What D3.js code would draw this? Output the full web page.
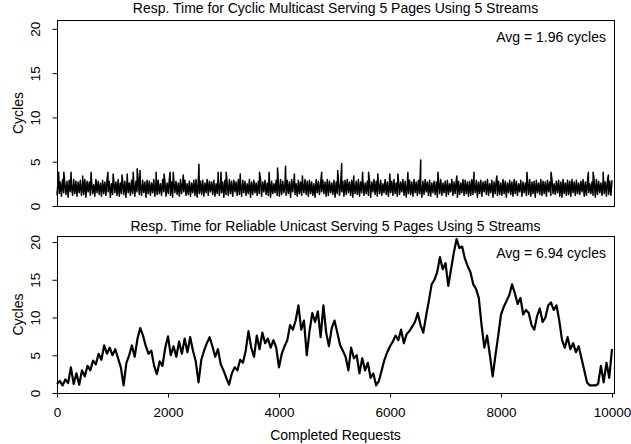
<!DOCTYPE html>
<html>
<head>
  <meta charset="UTF-8">
  <title>Response Time: Cyclic Multicast vs Reliable Unicast</title>
  <script src="https://d3js.org/d3.v7.min.js"></script>
  <style>
    body { margin: 0; background: #fff; }
    svg { display: block; font-family: "Liberation Sans", Arial, sans-serif; }
    .frame { fill: none; stroke: #000; stroke-width: 1; }
    .series { fill: none; stroke: #000; stroke-linejoin: round; }
    .axis path { display: none; }
    .axis line { stroke: #000; }
    .axis text { font-size: 13.5px; fill: #000; font-family: "Liberation Sans", Arial, sans-serif; }
    .lbl { font-size: 14px; }
  </style>
</head>
<body>
<svg width="631" height="444"></svg>
<script>
  // ---- data ----
  const yTicks = [0, 5, 10, 15, 20];
  const xTicks = [0, 2000, 4000, 6000, 8000, 10000];
  const maxReq = 10000;

  const titles = [
    "Resp. Time for Cyclic Multicast Serving 5 Pages Using 5 Streams",
    "Resp. Time for Reliable Unicast Serving 5 Pages Using 5 Streams"
  ];
  const avgLabels = ["Avg = 1.96 cycles", "Avg = 6.94 cycles"];

  // cyclic multicast: the dense band, evenly spaced over the requests
  const cyclicBand = [
    1.2,2.9,1.4,2.7,1.1,3.0,1.5,2.6,1.3,2.8,1.0,2.9,1.6,2.5,1.2,3.0,1.4,2.8,1.1,2.7,
    1.5,2.9,1.2,2.6,1.3,3.0,1.0,2.8,1.6,2.7,1.2,2.9,1.4,2.4,1.1,3.0,1.5,2.8,1.3,2.6,
    1.1,2.9,1.4,2.7,1.2,3.0,1.6,2.8,1.0,2.5,1.3,2.9,1.5,2.7,1.2,3.0,1.1,2.6,1.4,2.9,
    1.3,2.8,1.0,3.0,1.5,2.6,1.2,2.9,1.4,2.7,1.1,2.8,1.6,3.0,1.3,2.5,1.2,2.9,1.5,2.7,
    1.0,2.9,1.4,2.8,1.2,2.6,1.5,3.0,1.1,2.7,1.3,2.9,1.4,2.5,1.2,3.0,1.6,2.8,1.1,2.6,
    1.4,3.0,1.2,2.7,1.0,2.9,1.5,2.8,1.3,2.6,1.1,3.0,1.4,2.7,1.6,2.9,1.2,2.5,1.3,2.8,
    1.1,2.6,1.5,2.9,1.2,3.0,1.0,2.7,1.4,2.8,1.3,2.9,1.1,2.6,1.5,3.0,1.2,2.8,1.6,2.7,
    1.3,2.9,1.1,2.5,1.4,3.0,1.2,2.8,1.5,2.7,1.0,2.9,1.3,2.6,1.2,3.0,1.4,2.8,1.1,2.9,
    1.6,2.7,1.2,3.0,1.3,2.6,1.1,2.9,1.5,2.8,1.2,2.5,1.4,3.0,1.0,2.7,1.3,2.9,1.5,2.6,
    1.2,2.8,1.4,3.0,1.1,2.7,1.6,2.9,1.3,2.6,1.2,3.0,1.0,2.8,1.4,2.5,1.5,2.9,1.2,2.7,
    1.1,3.0,1.3,2.8,1.5,2.6,1.2,2.9,1.4,2.7,1.0,3.0,1.6,2.8,1.3,2.5,1.1,2.9,1.4,2.7,
    1.2,2.6,1.5,3.0,1.3,2.8,1.1,2.9,1.4,2.7,1.2,2.5,1.0,3.0,1.5,2.8,1.3,2.6,1.6,2.9,
    1.4,2.7,1.1,3.0,1.2,2.8,1.5,2.6,1.3,2.9,1.0,2.7,1.4,3.0,1.2,2.5,1.6,2.8,1.1,2.9,
    1.3,3.0,1.5,2.7,1.2,2.9,1.0,2.6,1.4,2.8,1.3,3.0,1.1,2.7,1.5,2.9,1.2,2.6,1.4,2.8,
    1.2,2.9,1.0,2.7,1.6,3.0,1.3,2.8,1.1,2.6,1.4,2.9,1.2,2.5,1.5,3.0,1.3,2.7,1.1,2.8,
    1.5,2.8,1.2,3.0,1.4,2.6,1.1,2.9,1.3,2.7,1.6,3.0,1.2,2.8,1.0,2.6,1.4,2.9,1.3,2.7,
    1.1,3.0,1.5,2.7,1.2,2.9,1.4,2.5,1.0,2.8,1.3,3.0,1.6,2.7,1.2,2.9,1.1,2.6,1.5,2.8,
    1.3,2.7,1.0,2.9,1.4,3.0,1.2,2.6,1.5,2.8,1.1,2.9,1.3,2.5,1.6,3.0,1.2,2.7,1.4,2.9,
    1.0,2.8,1.3,2.6,1.5,3.0,1.2,2.9,1.4,2.7,1.1,2.8,1.2,3.0,1.3,2.6,1.5,2.9,1.0,2.7,
    1.4,2.9,1.1,2.7,1.6,2.8,1.3,3.0,1.2,2.5,1.5,2.9,1.0,2.7,1.4,3.0,1.2,2.8,1.3,2.6,
    1.2,3.0,1.4,2.8,1.0,2.6,1.5,2.9,1.3,2.7,1.1,3.0,1.4,2.8,1.2,2.5,1.6,2.9,1.1,2.7,
    1.5,2.6,1.2,2.9,1.3,3.0,1.1,2.7,1.4,2.8,1.0,2.9,1.5,2.6,1.3,3.0,1.2,2.8,1.4,2.7,
    1.1,2.9,1.6,2.7,1.2,3.0,1.4,2.5,1.3,2.8,1.5,2.9,1.1,2.7,1.0,3.0,1.4,2.6,1.2,2.9,
    1.3,2.8,1.1,3.0,1.5,2.7,1.2,2.9,1.4,2.6,1.3,2.8,1.6,3.0,1.1,2.7,1.2,2.9,1.5,2.5,
    1.4,2.7,1.2,2.9,1.0,3.0,1.3,2.8,1.5,2.6,1.2,2.9,1.4,2.7,1.1,3.0,1.3,2.8,1.2,2.9
  ];
  // cyclic multicast: the taller spikes [request, cycles]
  const cyclicSpikeReq = [30,123,253,462,614,918,1012,1171,1264,1373,1445,1496,1785,1929,2038,2095,
    2276,2558,2905,2955,3049,3302,3649,3822,3974,4118,4277,4422,4769,5058,5130,5347,5506,5614,
    5780,5997,6142,6322,6553,6864,7204,7514,7926,8468,8902,9574,9660,9841,9935];
  const cyclicSpikeVal = [3.8,3.8,3.8,3.4,3.8,3.8,3.6,3.5,3.6,3.8,4.2,4.0,3.8,3.6,3.8,3.8,
    3.5,4.7,3.8,3.8,3.8,3.6,3.8,3.8,4.3,4.5,3.6,3.4,3.8,4.0,4.8,3.4,3.8,3.8,
    3.6,3.6,3.6,3.8,5.2,3.8,3.4,3.8,3.4,3.8,3.8,3.8,3.8,3.8,3.5];

  // reliable unicast: one reading every 50 requests
  const unicastStep = 50;
  const unicast = [
    1.2,1.6,1.0,1.8,1.3,3.4,1.2,2.6,1.1,3.0,2.2,3.6,3.0,4.3,3.8,5.2,4.4,6.3,5.2,6.0,
    5.0,5.8,4.6,3.4,1.0,4.0,5.0,6.3,4.8,7.2,8.6,7.6,6.2,5.2,5.6,3.6,2.5,4.2,3.6,6.0,
    7.5,5.0,6.2,4.8,6.8,5.2,7.2,5.4,7.4,5.6,4.2,1.4,4.4,5.6,6.6,7.4,6.2,4.8,5.8,3.8,
    3.0,2.0,1.1,2.6,3.4,3.0,4.4,4.0,5.6,8.2,6.0,4.8,7.6,5.8,8.0,6.6,7.2,6.0,7.0,6.0,
    3.4,5.2,6.2,7.0,9.0,8.4,9.6,11.6,8.4,9.6,5.0,8.2,10.6,9.4,10.8,7.4,11.6,8.0,6.2,8.6,
    9.6,8.0,6.4,5.6,4.8,3.0,6.0,4.6,5.0,2.6,4.6,3.0,4.0,2.0,2.6,1.0,1.6,3.0,4.4,5.4,
    6.2,6.8,7.6,7.0,8.4,6.6,7.8,8.2,8.8,9.4,10.6,9.0,8.0,10.2,12.2,14.4,15.0,16.0,18.0,16.4,
    17.2,14.2,16.4,18.6,20.4,19.2,19.4,17.8,16.8,16.0,14.4,13.8,12.6,9.0,6.0,7.6,5.0,2.2,5.0,7.6,
    10.4,11.4,12.2,13.0,14.4,13.2,11.8,12.6,10.4,11.0,10.6,9.0,8.4,10.2,11.2,9.4,10.0,11.6,12.0,11.0,
    11.6,9.6,7.0,6.0,7.4,5.8,6.6,5.4,6.2,4.6,3.0,1.4,1.0,1.0,1.0,1.2,3.6,1.4,4.0,2.0,
    5.8
  ];

  // ---- build point lists ----
  const bandPts = cyclicBand.map((v, i) => ({ r: i * maxReq / (cyclicBand.length - 1), v }));
  const spikePts = cyclicSpikeReq.map((r, i) => ({ r, v: cyclicSpikeVal[i] }));
  const cyclicPts = bandPts.concat(spikePts).sort((a, b) => a.r - b.r);
  const unicastPts = unicast.map((v, i) => ({ r: i * unicastStep, v }));

  const svg = d3.select("svg");
  const left = 57, right = 614;

  const x = d3.scaleLinear().domain([0, maxReq]).range([left, 612]);

  const panels = [
    { top: 20, bottom: 206, ymax: 21, pts: cyclicPts, sw: 1.5, titleY: 13, avgY: 42, xaxis: false },
    { top: 236, bottom: 393, ymax: 20.8, pts: unicastPts, sw: 2.2, titleY: 231, avgY: 258, xaxis: true }
  ];

  panels.forEach((p, k) => {
    const y = d3.scaleLinear().domain([0, p.ymax]).range([p.bottom, p.top]);
    const g = svg.append("g");

    g.append("path")
      .datum(p.pts)
      .attr("class", "series")
      .attr("stroke-width", p.sw)
      .attr("d", d3.line().x(d => x(d.r)).y(d => y(d.v)));

    g.append("rect")
      .attr("class", "frame")
      .attr("x", left + 0.5)
      .attr("y", p.top + 0.5)
      .attr("width", right - left)
      .attr("height", p.bottom - p.top);

    // y axis, labels turned parallel to the axis
    const ya = g.append("g")
      .attr("class", "axis")
      .attr("transform", `translate(${left + 0.5},0)`)
      .call(d3.axisLeft(y).tickValues(yTicks).tickSize(5));
    ya.selectAll("text")
      .attr("text-anchor", "middle")
      .attr("x", 0)
      .attr("y", 0)
      .attr("dy", null)
      .attr("transform", "translate(-18,0) rotate(-90)");

    if (p.xaxis) {
      g.append("g")
        .attr("class", "axis")
        .attr("transform", `translate(0,${p.bottom + 0.5})`)
        .call(d3.axisBottom(x).tickValues(xTicks).tickFormat(d3.format("d")).tickSize(4).tickPadding(10));
    }

    svg.append("text")
      .attr("class", "lbl")
      .attr("x", (left + right) / 2)
      .attr("y", p.titleY)
      .attr("text-anchor", "middle")
      .text(titles[k]);

    svg.append("text")
      .attr("class", "lbl")
      .attr("x", 606)
      .attr("y", p.avgY)
      .attr("text-anchor", "end")
      .text(avgLabels[k]);

    svg.append("text")
      .attr("class", "lbl")
      .attr("transform", `translate(23,${(p.top + p.bottom) / 2}) rotate(-90)`)
      .attr("text-anchor", "middle")
      .text("Cycles");
  });

  svg.append("text")
    .attr("class", "lbl")
    .attr("x", (left + right) / 2)
    .attr("y", 440)
    .attr("text-anchor", "middle")
    .text("Completed Requests");
</script>
</body>
</html>
